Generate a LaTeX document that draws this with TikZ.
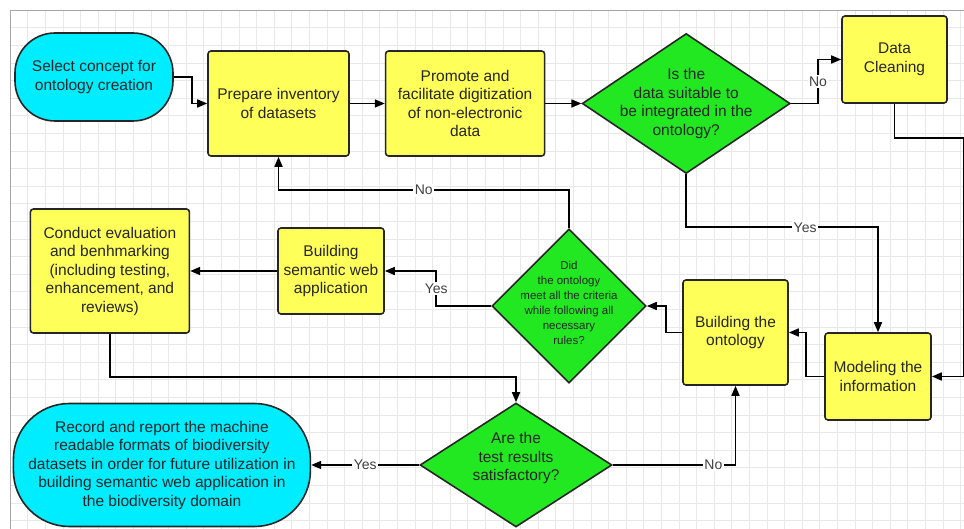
\documentclass[tikz,border=0pt]{standalone}
\usepackage{fontspec}
\setmainfont{Liberation Sans}
\usetikzlibrary{positioning,shapes.geometric,arrows.meta}
\definecolor{termcyan}{RGB}{0,236,255}
\definecolor{procyellow}{RGB}{255,255,90}
\definecolor{decgreen}{RGB}{34,232,34}
\definecolor{inkgray}{RGB}{38,38,38}

\begin{document}
\begin{tikzpicture}[x=1pt,y=-1pt,->,>={Triangle[length=10pt,width=8pt]},line width=1.6pt,
  every node/.style={font=\fontsize{15.5}{18.5}\selectfont,text=inkgray,align=center},
  terminal/.style={rectangle,draw=inkgray,fill=termcyan,line width=1.6pt,inner sep=0pt},
  process/.style={rectangle,rounded corners=3pt,draw=inkgray,fill=procyellow,line width=1.6pt,inner sep=0pt},
  decision/.style={diamond,draw=inkgray,fill=decgreen,line width=1.6pt,inner sep=0pt},
  answer/.style={fill=white,inner sep=1.5pt,font=\fontsize{14}{16}\selectfont,text=black!75},
  gridline/.style={-,line width=0.5pt,black!9}]
    \useasboundingbox (0,0) rectangle (964,529);
    \fill[white] (0,0) rectangle (964,529);
    % background grid
    \foreach \gx in {10,27.6,...,964} \draw[gridline] (\gx,10) -- (\gx,529);
    \foreach \gy in {10,27.6,...,529} \draw[gridline] (10,\gy) -- (964,\gy);
    \draw[-,line width=0.8pt,black!35] (10,529) -- (10,10) -- (964,10);

    \node[terminal,rounded corners=40pt,minimum width=158pt,minimum height=88pt] (start) at (94,77) {Select concept for\\ontology creation};
    \node[process,minimum width=141pt,minimum height=105pt] (prep) at (278.5,103.5) {Prepare inventory\\of datasets};
    \node[process,minimum width=159pt,minimum height=105pt] (promote) [right=35pt of prep] {Promote and\\facilitate digitization\\of non-electronic\\data};
    \node[decision,minimum width=208pt,minimum height=140pt,label={center:Is the\\data suitable to\\be integrated in the\\ontology?}] (isdata) [right=36pt of promote] {};
    \node[process,minimum width=105pt,minimum height=87pt] (clean) at (894.5,59.5) {Data\\Cleaning};
    \node[process,minimum width=106pt,minimum height=87pt] (model) at (878,376.5) {Modeling the\\information};
    \node[process,minimum width=105pt,minimum height=105pt] (buildonto) at (735.5,332.5) {Building the\\ontology};
    \node[decision,minimum width=154pt,minimum height=154pt,label={[font=\fontsize{11.5}{15}\selectfont,yshift=3pt]center:Did\\the ontology\\meet all the criteria\\while following all\\necessary\\rules?}] (criteria) at (569,306) {};
    \node[process,minimum width=106pt,minimum height=86pt] (semweb) at (331,271) {Building\\semantic web\\application};
    \node[process,minimum width=159pt,minimum height=124pt] (conduct) [left=87pt of semweb] {Conduct evaluation\\and benhmarking\\(including testing,\\enhancement, and\\reviews)};
    \node[decision,minimum width=192pt,minimum height=124pt,label={[yshift=7pt]center:Are the\\test results\\satisfactory?}] (testok) at (516,465) {};
    \node[terminal,rounded corners=56pt,minimum width=297pt,minimum height=123pt] (finish) [left=108pt of testok] {Record and report the machine\\readable formats of biodiversity\\datasets in order for future utilization in\\building semantic web application in\\the biodiversity domain};

    \draw (start.east) -- ++(18,0) |- (prep.west);
    \draw (prep) -- (promote);
    \draw (promote) -- (isdata);
    \draw (isdata.east) -- ++(27,0) |- node[answer,pos=0.25] {No} (clean.west);
    \draw (clean.south) -- ++(0,34) -| ([xshift=32pt]model.east) -- (model.east);
    \draw (isdata.south) -- ++(0,53) -| node[answer,pos=0.31] {Yes} (model.north);
    \draw (model.west) -- ++(-18,0) |- (buildonto.east);
    \draw (buildonto.west) -- ++(-16,0) |- (criteria.east);
    \draw (criteria.north) -- ++(0,-38) -| node[answer,pos=0.25] {No} (prep.south);
    \draw (criteria.west) -- ++(-55,0) |- node[answer,pos=0.25] {Yes} (semweb.east);
    \draw (semweb) -- (conduct);
    \draw (conduct.south) -- ++(0,43) -| (testok.north);
    \draw (testok) -- node[answer] {Yes} (finish);
    \draw (testok.east) -| node[answer,pos=0.41] {No} (buildonto.south);
\end{tikzpicture}
\end{document}
